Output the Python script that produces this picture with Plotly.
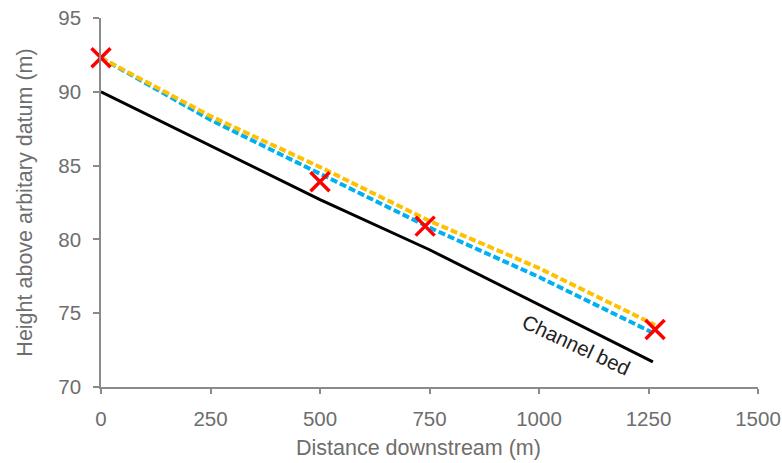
import plotly.graph_objects as go

# Long profile of a river reach: channel bed and two modelled water surfaces
bed_x = [0, 500, 750, 1260]
bed_y = [90.0, 82.7, 79.3, 71.7]

wsA_x = [0, 250, 500, 750, 1000, 1265]          # blue dashed surface
wsA_y = [92.3, 88.1, 84.45, 80.8, 77.45, 73.6]

wsB_x = [0, 250, 500, 750, 1000, 1265]          # gold dashed surface
wsB_y = [92.3, 88.35, 84.9, 81.25, 78.05, 74.2]

obs_x = [0, 500, 740, 1265]                      # surveyed water levels
obs_y = [92.3, 83.9, 80.9, 73.9]

x_ticks = [0, 250, 500, 750, 1000, 1250, 1500]
y_ticks = [70, 75, 80, 85, 90, 95]

AXIS_GREY = "#8a8a8a"
TEXT_GREY = "#6e6e6e"
FONT = "Liberation Sans, Arial, sans-serif"

fig = go.Figure()

fig.add_trace(go.Scatter(
    x=bed_x, y=bed_y, mode="lines",
    line=dict(color="#000000", width=3),
    showlegend=False, hoverinfo="skip"))

fig.add_trace(go.Scatter(
    x=wsA_x, y=wsA_y, mode="lines",
    line=dict(color="#00B0F0", width=4, dash="7px,3px"),
    showlegend=False))

fig.add_trace(go.Scatter(
    x=wsB_x, y=wsB_y, mode="lines",
    line=dict(color="#FFC000", width=4, dash="7px,3px"),
    showlegend=False))

fig.add_trace(go.Scatter(
    x=obs_x, y=obs_y, mode="markers",
    marker=dict(symbol="x-thin", size=19,
                line=dict(color="#FF0000", width=3.5)),
    cliponaxis=False, showlegend=False))

fig.add_annotation(
    x=1084, y=72.85, xref="x", yref="y",
    text="Channel bed", showarrow=False, textangle=25,
    xanchor="center", yanchor="middle",
    font=dict(family=FONT, size=20.5, color="#222222"))

# x-axis title, placed slightly left of the plot centre
fig.add_annotation(
    x=0.4825, y=-0.166, xref="paper", yref="paper",
    text="Distance downstream (m)", showarrow=False,
    xanchor="center", yanchor="middle",
    font=dict(family=FONT, size=21.5, color=TEXT_GREY))

axis_common = dict(
    showgrid=False, zeroline=False, automargin=False,
    showline=True, linecolor=AXIS_GREY, linewidth=1.5,
    ticks="outside", tickcolor=AXIS_GREY, tickwidth=1.5,
    tickfont=dict(family=FONT, size=20.5, color=TEXT_GREY),
)

fig.update_layout(
    width=782, height=463,
    margin=dict(l=101, r=24, t=18, b=76),
    paper_bgcolor="white", plot_bgcolor="white",
    xaxis=dict(range=[0, 1500], tickvals=x_ticks, ticklen=5,
               ticklabelstandoff=8, **axis_common),
    yaxis=dict(range=[70, 95], tickvals=y_ticks, ticklen=6,
               ticklabelstandoff=8,
               title=dict(text="Height above arbitary datum (m)", standoff=20,
                          font=dict(family=FONT, size=21.5, color=TEXT_GREY)),
               **axis_common),
)

fig.write_html("out.html")
